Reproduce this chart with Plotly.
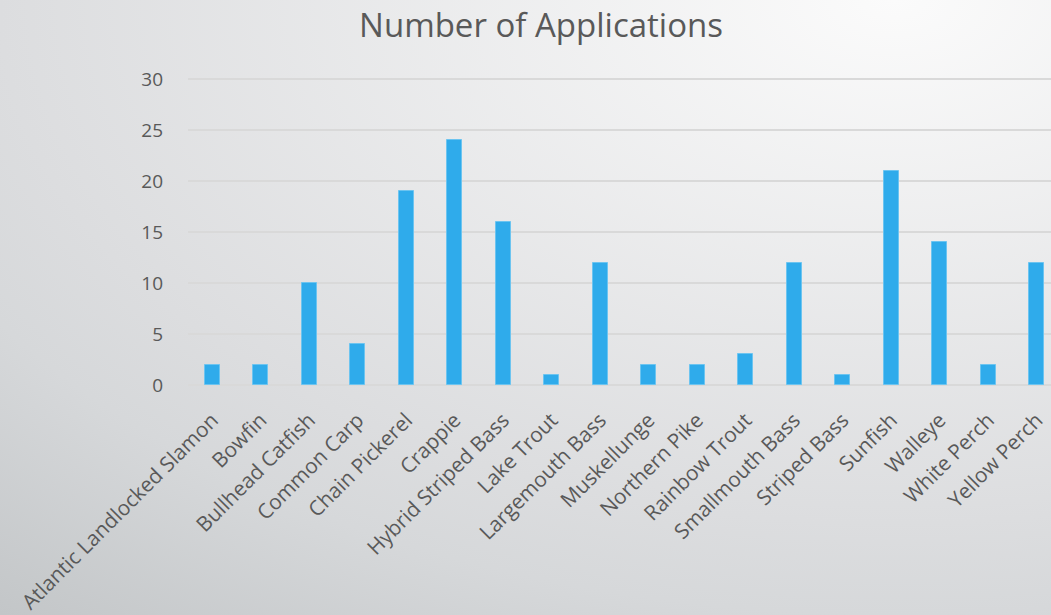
import base64
import plotly.graph_objects as go

categories = ["Atlantic Landlocked Slamon", "Bowfin", "Bullhead Catfish", "Common Carp",
              "Chain Pickerel", "Crappie", "Hybrid Striped Bass", "Lake Trout",
              "Largemouth Bass", "Muskellunge", "Northern Pike", "Rainbow Trout",
              "Smallmouth Bass", "Striped Bass", "Sunfish", "Walleye", "White Perch",
              "Yellow Perch"]
applications = [2, 2, 10, 4, 19, 24, 16, 1, 12, 2, 2, 3, 12, 1, 21, 14, 2, 12]
y_ticks = [0, 5, 10, 15, 20, 25, 30]
title_text = "Number of Applications"

W, H = 1051, 615
Y_TOP = 31
ML, MB = 188, 615 - 385
PW = W - ML
PH = round(306 / 30 * Y_TOP)
MT = 385 - PH

svg = f'''<svg xmlns="http://www.w3.org/2000/svg" width="{W}" height="{H}" viewBox="0 0 {W} {H}" preserveAspectRatio="none">
<defs><radialGradient id="g" gradientUnits="objectBoundingBox" cx="0.85" cy="0" r="1.35">
<stop offset="0" stop-color="#fbfbfb"/><stop offset="0.63" stop-color="#dcdddf"/>
<stop offset="0.74" stop-color="#d6d8da"/><stop offset="0.97" stop-color="#c3c6c8"/>
</radialGradient></defs><rect width="{W}" height="{H}" fill="url(#g)"/></svg>'''
src = "data:image/svg+xml;base64," + base64.b64encode(svg.encode()).decode()

font = "'Open Sans', Lato, sans-serif"
fig = go.Figure(go.Bar(
    x=categories, y=applications,
    marker=dict(color="#2fabeb", line=dict(color="#6cc4f0", width=1)),
    width=0.31,
))
fig.update_layout(
    width=W, height=H,
    margin=dict(l=ML, r=0, t=MT, b=MB, autoexpand=False),
    paper_bgcolor="#dcdddf", plot_bgcolor="rgba(0,0,0,0)",
    title=dict(text=title_text, x=541 / W, xref="container", xanchor="center",
               y=1 - 25 / H, yref="container", yanchor="middle",
               font=dict(family=font, size=33, color="#595959", weight=400)),
    font=dict(family=font, color="#595959"),
    showlegend=False,
    images=[dict(source=src, xref="paper", yref="paper",
                 x=-ML / PW, y=1 + MT / PH, sizex=W / PW, sizey=H / PH,
                 xanchor="left", yanchor="top", sizing="stretch", layer="below")],
    xaxis=dict(range=[-0.5, -0.5 + PW / 48.5], tickangle=-45, showgrid=False,
               tickfont=dict(size=20.8, color="#595959"), ticks="", showline=False,
               zeroline=False, ticklabelstandoff=18, automargin=False),
    yaxis=dict(range=[0, Y_TOP], tickvals=y_ticks, showgrid=True, gridcolor="#d9d9d9",
               gridwidth=2, zeroline=True, zerolinecolor="#d9d9d9", zerolinewidth=2,
               tickfont=dict(size=19, color="#595959"), ticklabelstandoff=24,
               automargin=False),
    bargap=0,
)
fig.write_html("out.html", config={"displayModeBar": False},
               post_script="document.body.style.margin='0';")
